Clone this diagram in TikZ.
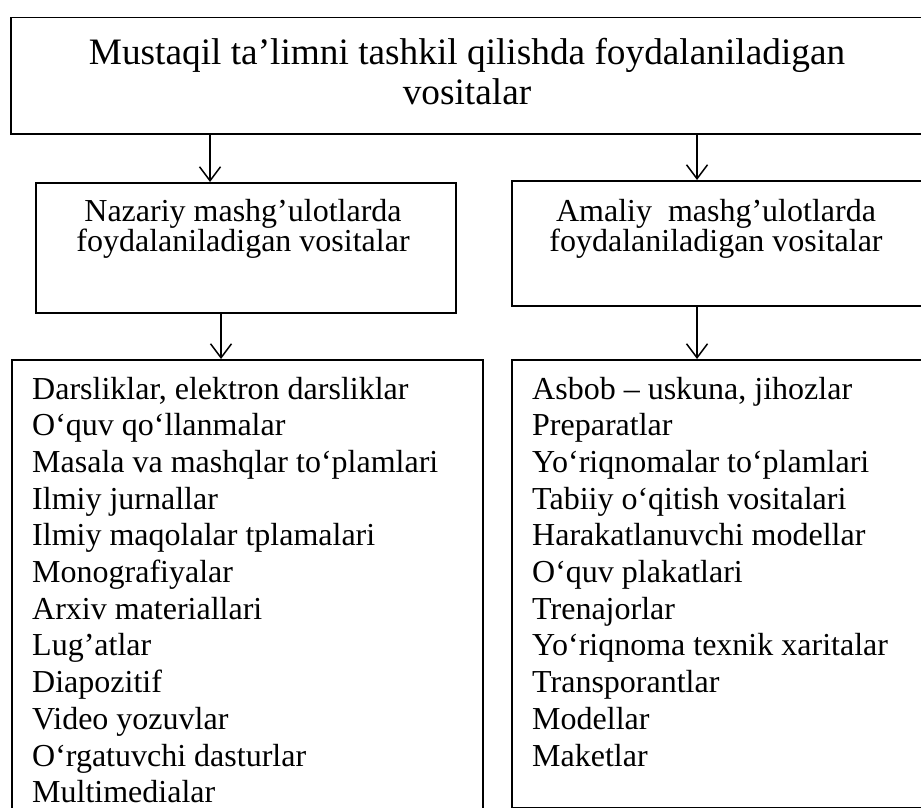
\documentclass[tikz,border=0pt]{standalone}
\usepackage{fontspec}
\setmainfont{Liberation Serif}
\usetikzlibrary{arrows.meta}

\begin{document}
\begin{tikzpicture}[x=1pt, y=-1pt,
		box/.style={draw, line width=1.5pt, inner sep=0pt, anchor=north west},
		head/.style={align=center, inner sep=0pt},
		arr/.style={line width=1.5pt, -{Straight Barb[length=14pt,width=21pt]}},
		item/.style={anchor=base west, inner sep=0pt, font=\fontsize{32}{36}\selectfont}]
	\useasboundingbox (0,0) rectangle (921,808);
	% boxes
	\node[box, minimum width=915pt, minimum height=116pt] (main) at (10,17) {};
	\node[box, minimum width=420pt, minimum height=130pt] (nazariy) at (35,182) {};
	\node[box, minimum width=414pt, minimum height=125pt] (amaliy) at (511,180) {};
	\node[box, minimum width=471pt, minimum height=455pt] (nazlist) at (11,359) {};
	\node[box, minimum width=414pt, minimum height=448pt] (amallist) at (511,359) {};
	% headings
	\node[head, font=\fontsize{37.3}{40}\selectfont] (main-t) at (467,72)
		{Mustaqil ta’limni tashkil qilishda foydalaniladigan\\vositalar};
	\node[head, font=\fontsize{32}{29.5}\selectfont] (nazariy-t) at (243,229)
		{Nazariy mashg’ulotlarda\\foydalaniladigan vositalar};
	\node[head, font=\fontsize{32}{29.5}\selectfont] (amaliy-t) at (716,229)
		{Amaliy\ \ mashg’ulotlarda\\foydalaniladigan vositalar};
	% arrows
	\draw[arr] (210,0 |- main.south) -- (210,0 |- nazariy.north);
	\draw[arr] (697,0 |- main.south) -- (697,0 |- amaliy.north);
	\draw[arr] (221,0 |- nazariy.south) -- (221,0 |- nazlist.north);
	\draw[arr] (697,0 |- amaliy.south) -- (697,0 |- amallist.north);
	% lists
	\foreach \t [count=\i] in {{Darsliklar, elektron darsliklar}, O‘quv qo‘llanmalar,
			Masala va mashqlar to‘plamlari, Ilmiy jurnallar, Ilmiy maqolalar tplamalari,
			Monografiyalar, Arxiv materiallari, Lug’atlar, Diapozitif, Video yozuvlar,
			O‘rgatuvchi dasturlar, Multimedialar}
		\node[item] (n\i) at (32,{399+(\i-1)*36.7}) {\t};
	\foreach \t [count=\i] in {{Asbob – uskuna, jihozlar}, Preparatlar,
			Yo‘riqnomalar to‘plamlari, Tabiiy o‘qitish vositalari, Harakatlanuvchi modellar,
			O‘quv plakatlari, Trenajorlar, Yo‘riqnoma texnik xaritalar, Transporantlar,
			Modellar, Maketlar}
		\node[item] (a\i) at (532,{399+(\i-1)*36.7}) {\t};
\end{tikzpicture}
\end{document}
